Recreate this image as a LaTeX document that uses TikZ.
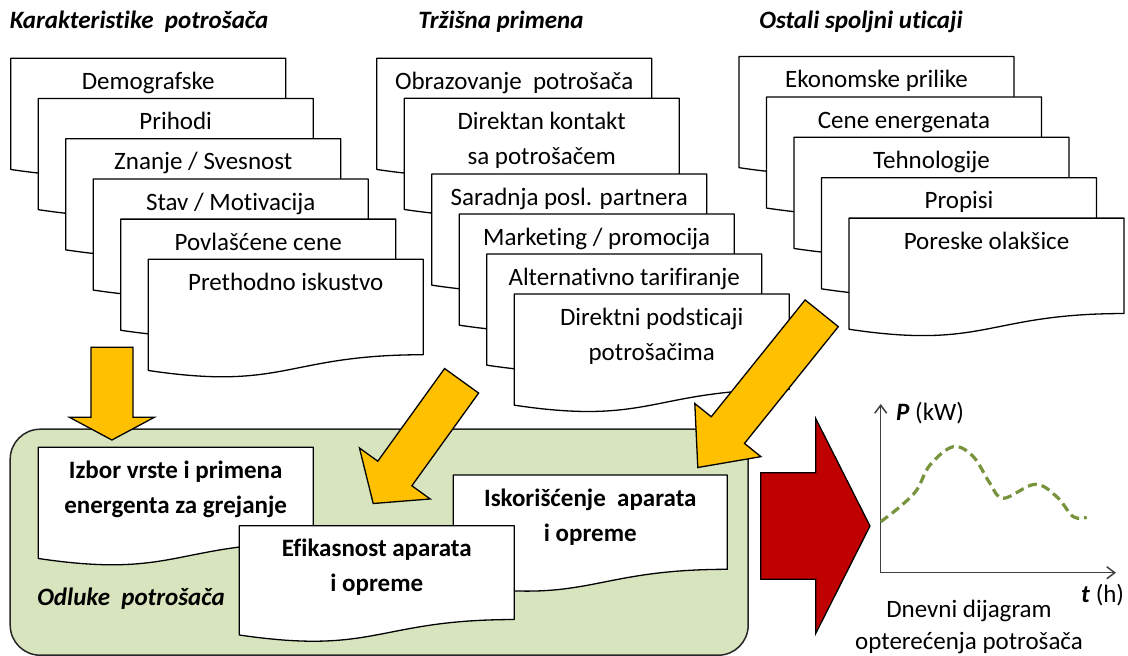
\documentclass[tikz,border=0pt]{standalone}
\usepackage{fontspec}
\setmainfont[Ligatures=NoCommon]{Carlito}
\usetikzlibrary{calc,arrows.meta}
\definecolor{yel}{HTML}{FFC000}
\definecolor{redarr}{HTML}{C00000}
\definecolor{greenfill}{HTML}{D7E4BD}
\definecolor{curvegreen}{HTML}{77933C}
\definecolor{axisgray}{HTML}{404040}
\newcommand{\docnode}[7]{% #1 name, #2 text style, #3 left, #4 top, #5 width, #6 height, #7 text
  \filldraw[docbox] (#3,#4) -- ({#3+#5},#4) -- ({#3+#5},{#4+0.802*#6})
    .. controls ({#3+0.5*#5},{#4+0.802*#6}) and ({#3+0.5*#5},{#4+1.1075*#6}) .. (#3,{#4+0.934*#6}) -- cycle;
  \node[#2, anchor=north] (#1) at ({#3+0.5*#5},{#4+6.5}) {\strut#7};
}
\newcommand{\blockarrow}[7]{% #1 prefix, #2 style, #3 start, #4 tip, #5 shaft half width, #6 head half width, #7 head length
  \coordinate (#1-h) at ($(#4)!#7!(#3)$);
  \draw[#2] ($(#3)!#5!90:(#4)$) -- ($(#1-h)!#5!-90:(#3)$) -- ($(#1-h)!#6!-90:(#3)$) -- (#4)
    -- ($(#1-h)!#6!90:(#3)$) -- ($(#1-h)!#5!90:(#3)$) -- ($(#3)!#5!-90:(#4)$) -- cycle;
}
\begin{document}
\begin{tikzpicture}[x=1pt,y=-1pt,
  docbox/.style={fill=white,draw=black,line width=1.3pt,line join=round},
  doctext/.style={font=\fontsize{25}{35}\selectfont,inner sep=0pt,align=center},
  docbold/.style={doctext,font=\fontsize{25}{35}\selectfont\bfseries},
  title/.style={font=\fontsize{25}{30}\selectfont\bfseries\itshape,inner sep=0pt,anchor=base},
  plain/.style={font=\fontsize{25}{30}\selectfont,inner sep=0pt},
  yarrow/.style={fill=yel,draw=black,line width=1.3pt,line join=miter},
  rarrow/.style={fill=redarr,draw=black,line width=1.3pt,line join=miter},
  decision/.style={fill=greenfill,draw=black!85,line width=1.5pt,rounded corners=30pt,inner sep=0pt},
  axis/.style={draw=axisgray,line width=1.5pt,-{Straight Barb[length=8pt,width=12pt,line width=1.5pt]}},
  load/.style={draw=curvegreen,line width=3.2pt,dash pattern=on 9pt off 5pt}]
\useasboundingbox (0,0) rectangle (1128,656);

% titles
\node[title] (t1) at (139,28) {Karakteristike\ \ potrošača};
\node[title] (t2) at (501,28) {Tržišna primena};
\node[title] (t3) at (861,28) {Ostali spoljni uticaji};

% left stack
\docnode{k1}{doctext}{10.7}{58.3}{275}{119}{Demografske}
\docnode{k2}{doctext}{38.2}{98.5}{275}{119}{Prihodi}
\docnode{k3}{doctext}{65.7}{138.7}{275}{119}{Znanje / Svesnost}
\docnode{k4}{doctext}{93.2}{178.9}{275}{119}{Stav / Motivacija}
\docnode{k5}{doctext}{120.7}{219.1}{275}{119}{Povlašćene cene}
\docnode{k6}{doctext}{148.2}{259.3}{275}{119}{Prethodno iskustvo}

% middle stack
\docnode{m1}{doctext}{376.7}{58.3}{275}{119}{Obrazovanje\ \ potrošača}
\docnode{m2}{doctext}{404.2}{98.3}{275}{119}{Direktan kontakt\\\strut sa potrošačem}
\docnode{m3}{doctext}{431.7}{174}{275}{119}{Saradnja posl. partnera}
\docnode{m4}{doctext}{459.2}{214}{275}{119}{Marketing / promocija}
\docnode{m5}{doctext}{486.7}{254}{275}{119}{Alternativno tarifiranje}
\docnode{m6}{doctext}{514.2}{294}{275}{119}{Direktni podsticaji\\\strut potrošačima}

% right stack
\docnode{r1}{doctext}{739}{56.5}{275}{119}{Ekonomske prilike}
\docnode{r2}{doctext}{766.5}{96.9}{275}{119}{Cene energenata}
\docnode{r3}{doctext}{794}{137.3}{275}{119}{Tehnologije}
\docnode{r4}{doctext}{821.5}{177.7}{275}{119}{Propisi}
\docnode{r5}{doctext}{849}{218.1}{275}{119}{Poreske olakšice}

% decisions
\node[decision,minimum width=738pt,minimum height=226pt] (odl) at (379.2,542.2) {};
\docnode{b3}{docbold}{453.3}{475}{274}{117.6}{Iskorišćenje\ \ aparata\\\strut i opreme}
\docnode{b1}{docbold}{38.2}{447.3}{275}{119}{Izbor vrste i primena\\\strut energenta za grejanje}
\docnode{b2}{docbold}{239.3}{525.7}{275}{117}{Efikasnost aparata\\\strut i opreme}
\node[title] (odlt) at (131,605) {Odluke\ \ potrošača};

% yellow arrows
\coordinate (a0s) at (111.9,347.3); \coordinate (a0t) at (111.9,440);
\blockarrow{a0}{yarrow}{a0s}{a0t}{21pt}{42.4pt}{22.7pt}
\coordinate (a1s) at (461.6,380.8); \coordinate (a1t) at (373.2,503.5);
\blockarrow{a1}{yarrow}{a1s}{a1t}{21pt}{43.6pt}{37pt}
\coordinate (a2s) at (821.7,313.3); \coordinate (a2t) at (697.8,467.5);
\blockarrow{a2}{yarrow}{a2s}{a2t}{21.3pt}{42.4pt}{48pt}

% red arrow
\coordinate (rs) at (760.7,526); \coordinate (rt) at (870,526);
\blockarrow{ra}{rarrow}{rs}{rt}{53.3pt}{107.5pt}{54.3pt}

% chart
\coordinate (o) at (880.7,572.7);
\coordinate (ytop) at (880.7,404);
\coordinate (xend) at (1116,572.7);
\draw[axis] (o) -- (ytop);
\draw[axis] (o) -- (xend);
\draw[load] plot[smooth,tension=0.6] coordinates {(880.7,521.7) (900,506.7) (916.7,490) (930,465) (953.3,446.7) (973.3,456.7) (990,483.3) (1003.3,498.3) (1035,484.3) (1056.7,496.7) (1073.3,516.7) (1086.7,517.3)};
\node[plain,anchor=base west] (pl) at (896,420) {\textbf{\textit{P}} (kW)};
\node[plain,anchor=base west] (tl) at (1081,602) {\textbf{\textit{t}} (h)};
\node[plain,anchor=base] (dl1) at (969,617) {Dnevni dijagram};
\node[plain,anchor=base] (dl2) at (969,649.5) {opterećenja potrošača};
\end{tikzpicture}
\end{document}
